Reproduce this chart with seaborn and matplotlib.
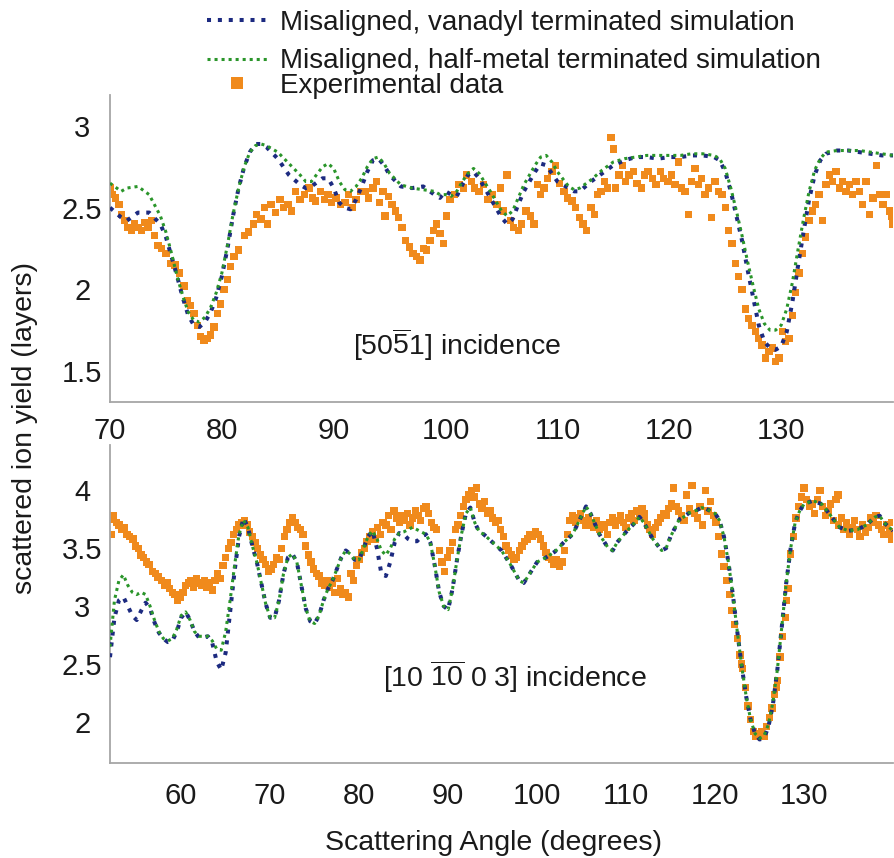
import numpy as np
import pandas as pd
import matplotlib
matplotlib.use("Agg")
import matplotlib.pyplot as plt
import seaborn as sns
from matplotlib.lines import Line2D
from matplotlib.ticker import FuncFormatter

# ---------------- data ----------------
top_sim_x = [70, 71, 71.5, 72.5, 73.5, 74.5, 75, 75.5, 76, 76.5,
             77, 77.5, 78, 78.5, 79, 79.5, 80, 80.5, 81, 81.5,
             82, 82.5, 83, 83.5, 84, 85, 86, 87, 87.5, 88,
             89, 89.5, 90, 90.5, 91, 91.5, 92, 92.5, 93, 93.5,
             94, 94.5, 95, 96, 97, 98, 99, 99.5, 100, 100.5,
             101, 101.5, 102, 102.5, 103, 104, 105, 105.5, 106, 106.5,
             107, 108, 108.5, 109, 109.5, 110, 111, 111.5, 112, 113,
             114, 115, 116, 117, 118, 119, 120, 121, 122, 123,
             124, 124.5, 125, 125.5, 126, 126.5, 127, 127.5, 128, 128.5,
             129, 129.5, 130, 130.5, 131, 131.5, 132, 132.5, 133, 133.5,
             134, 135, 136, 137, 138, 139, 140]
top_vanadyl = [2.50, 2.44, 2.42, 2.47, 2.47, 2.40, 2.32, 2.20, 2.08, 1.95,
               1.84, 1.78, 1.77, 1.80, 1.86, 1.95, 2.08, 2.25, 2.45, 2.62,
               2.75, 2.84, 2.89, 2.89, 2.87, 2.80, 2.70, 2.64, 2.62, 2.63,
               2.68, 2.68, 2.62, 2.53, 2.50, 2.49, 2.55, 2.63, 2.72, 2.79,
               2.80, 2.76, 2.70, 2.63, 2.62, 2.63, 2.58, 2.56, 2.60, 2.58,
               2.57, 2.64, 2.70, 2.72, 2.68, 2.56, 2.44, 2.40, 2.43, 2.52,
               2.60, 2.72, 2.77, 2.76, 2.71, 2.66, 2.62, 2.60, 2.60, 2.66,
               2.71, 2.76, 2.79, 2.81, 2.81, 2.80, 2.81, 2.81, 2.82, 2.82,
               2.81, 2.79, 2.72, 2.60, 2.45, 2.30, 2.12, 1.95, 1.78, 1.68,
               1.64, 1.63, 1.65, 1.74, 1.92, 2.14, 2.35, 2.55, 2.70, 2.79,
               2.83, 2.85, 2.85, 2.84, 2.83, 2.82, 2.82]
top_halfmetal = [2.65, 2.60, 2.62, 2.63, 2.58, 2.45, 2.35, 2.22, 2.08, 1.96,
                 1.86, 1.81, 1.80, 1.83, 1.89, 1.98, 2.10, 2.27, 2.46, 2.62,
                 2.75, 2.84, 2.88, 2.89, 2.88, 2.84, 2.77, 2.70, 2.66, 2.66,
                 2.75, 2.77, 2.74, 2.66, 2.61, 2.60, 2.63, 2.68, 2.75, 2.80,
                 2.81, 2.77, 2.71, 2.64, 2.62, 2.61, 2.60, 2.58, 2.58, 2.57,
                 2.60, 2.66, 2.71, 2.74, 2.71, 2.60, 2.48, 2.45, 2.48, 2.56,
                 2.64, 2.76, 2.81, 2.82, 2.78, 2.72, 2.63, 2.61, 2.62, 2.67,
                 2.73, 2.78, 2.80, 2.81, 2.82, 2.82, 2.82, 2.82, 2.83, 2.83,
                 2.82, 2.80, 2.74, 2.62, 2.48, 2.33, 2.17, 2.02, 1.88, 1.79,
                 1.75, 1.75, 1.78, 1.88, 2.04, 2.24, 2.43, 2.60, 2.73, 2.80,
                 2.84, 2.85, 2.85, 2.85, 2.84, 2.83, 2.82]

top_exp_x = [70.0, 70.2, 70.5, 70.8, 71.0, 71.3, 71.6, 71.9, 72.2, 72.5,
             72.8, 73.1, 73.4, 73.7, 74.0, 74.3, 74.6, 75.0, 75.4, 75.8,
             76.2, 76.6, 76.9, 77.2, 77.5, 77.8, 78.1, 78.4, 78.7, 79.0,
             79.3, 79.6, 79.9, 80.2, 80.5, 80.8, 81.1, 81.5, 82.0, 82.4,
             82.8, 83.1, 83.5, 83.8, 84.1, 84.4, 84.8, 85.2, 85.5, 85.9,
             86.2, 86.6, 87.0, 87.4, 87.8, 88.1, 88.4, 88.8, 89.2, 89.5,
             89.8, 90.2, 90.6, 91.0, 91.3, 91.7, 92.0, 92.4, 92.8, 93.1,
             93.5, 93.8, 94.1, 94.4, 94.6, 94.9, 95.2, 95.5, 95.8, 96.1,
             96.4, 96.8, 97.1, 97.4, 97.7, 98.0, 98.3, 98.6, 98.9, 99.2,
             99.5, 99.8, 100.1, 100.4, 100.8, 101.2, 101.6, 101.9, 102.3, 102.6,
             103.0, 103.4, 103.8, 104.2, 104.6, 104.9, 105.2, 105.5, 105.8, 106.1,
             106.5, 106.8, 107.2, 107.6, 107.9, 108.2, 108.5, 108.8, 109.1, 109.5,
             109.8, 110.2, 110.6, 110.9, 111.3, 111.6, 112.0, 112.3, 112.6, 113.0,
             113.3, 113.6, 113.9, 114.2, 114.5, 114.8, 115.0, 115.2, 115.5, 115.8,
             116.1, 116.4, 116.8, 117.1, 117.5, 117.8, 118.1, 118.5, 118.8, 119.2,
             119.5, 119.9, 120.2, 120.5, 120.8, 121.1, 121.4, 121.7, 122.0, 122.3,
             122.6, 122.9, 123.2, 123.5, 123.8, 124.1, 124.4, 124.7, 125.0, 125.3,
             125.6, 125.9, 126.2, 126.5, 126.8, 127.1, 127.4, 127.7, 128.0, 128.3,
             128.6, 128.9, 129.2, 129.5, 129.8, 130.1, 130.4, 130.7, 131.0, 131.3,
             131.6, 131.9, 132.2, 132.5, 132.8, 133.1, 133.4, 133.7, 134.0, 134.3,
             134.6, 134.9, 135.2, 135.5, 135.8, 136.1, 136.4, 136.7, 137.0, 137.3,
             137.6, 137.9, 138.2, 138.5, 138.8, 139.1, 139.4, 139.7, 140.0, 139.9]
top_exp_y = [2.62, 2.58, 2.56, 2.52, 2.46, 2.42, 2.38, 2.36, 2.40, 2.38,
             2.36, 2.41, 2.38, 2.42, 2.33, 2.27, 2.25, 2.22, 2.16, 2.15,
             2.10, 2.02, 1.93, 1.90, 1.85, 1.78, 1.71, 1.69, 1.70, 1.72,
             1.77, 1.85, 1.91, 2.00, 2.06, 2.14, 2.20, 2.24, 2.33, 2.35,
             2.40, 2.46, 2.43, 2.50, 2.40, 2.52, 2.47, 2.55, 2.50, 2.52,
             2.48, 2.60, 2.55, 2.58, 2.62, 2.56, 2.54, 2.60, 2.55, 2.58,
             2.53, 2.56, 2.52, 2.53, 2.58, 2.50, 2.55, 2.60, 2.60, 2.56,
             2.62, 2.66, 2.53, 2.60, 2.45, 2.57, 2.52, 2.48, 2.44, 2.38,
             2.30, 2.26, 2.22, 2.20, 2.18, 2.25, 2.24, 2.30, 2.36, 2.40,
             2.34, 2.28, 2.45, 2.55, 2.58, 2.64, 2.62, 2.70, 2.66, 2.62,
             2.60, 2.64, 2.55, 2.58, 2.52, 2.62, 2.48, 2.70, 2.42, 2.38,
             2.36, 2.40, 2.48, 2.45, 2.40, 2.64, 2.58, 2.62, 2.68, 2.72,
             2.76, 2.65, 2.60, 2.56, 2.54, 2.50, 2.44, 2.40, 2.36, 2.50,
             2.46, 2.58, 2.60, 2.66, 2.62, 2.93, 2.86, 2.62, 2.70, 2.76,
             2.66, 2.70, 2.72, 2.65, 2.62, 2.70, 2.72, 2.68, 2.64, 2.72,
             2.68, 2.66, 2.70, 2.64, 2.78, 2.62, 2.60, 2.46, 2.66, 2.74,
             2.64, 2.68, 2.58, 2.62, 2.44, 2.66, 2.60, 2.58, 2.50, 2.36,
             2.28, 2.16, 2.08, 2.00, 1.88, 1.82, 1.78, 1.74, 1.70, 1.66,
             1.58, 1.62, 1.64, 1.56, 1.58, 1.74, 1.68, 1.70, 1.84, 1.98,
             2.10, 2.22, 2.32, 2.42, 2.48, 2.52, 2.58, 2.42, 2.64, 2.70,
             2.66, 2.72, 2.62, 2.66, 2.60, 2.64, 2.58, 2.66, 2.60, 2.52,
             2.66, 2.46, 2.56, 2.76, 2.58, 2.52, 2.58, 2.48, 2.40, 2.45]

bot_sim_x = [52, 52.5, 53, 53.5, 54, 54.5, 55, 55.5, 56, 56.5,
             57, 57.5, 58, 58.5, 59, 59.5, 60, 60.5, 61, 61.5,
             62, 62.5, 63, 63.5, 64, 64.5, 65, 65.5, 66, 66.5,
             67, 67.5, 68, 68.5, 69, 69.5, 70, 70.5, 71, 71.5,
             72, 72.5, 73, 73.5, 74, 74.5, 75, 75.5, 76, 76.5,
             77, 77.5, 78, 78.5, 79, 79.5, 80, 80.5, 81, 81.5,
             82, 82.5, 83, 83.5, 84, 84.5, 85, 85.5, 86, 86.5,
             87, 87.5, 88, 88.5, 89, 89.5, 90, 90.5, 91, 91.5,
             92, 92.5, 93, 93.5, 94, 95, 96, 97, 98, 98.5,
             99, 100, 101, 102, 103, 104, 105, 105.5, 106, 107,
             108, 108.5, 109, 110, 111, 111.5, 112, 113, 114, 114.5,
             115, 116, 116.5, 117, 118, 118.5, 119, 120, 120.5, 121,
             121.5, 122, 122.5, 123, 123.5, 124, 124.5, 125, 125.5, 126,
             126.5, 127, 127.5, 128, 128.5, 129, 129.5, 130, 131, 132,
             133, 134, 135, 136, 137, 138, 138.5, 139, 140]
bot_vanadyl = [2.56, 2.90, 3.05, 3.08, 3.00, 2.92, 2.88, 2.96, 3.03, 2.98,
               2.86, 2.77, 2.72, 2.69, 2.70, 2.78, 2.90, 2.95, 2.88, 2.78,
               2.73, 2.73, 2.74, 2.68, 2.52, 2.45, 2.60, 2.95, 3.30, 3.60,
               3.76, 3.68, 3.52, 3.38, 3.20, 3.02, 2.90, 2.90, 3.05, 3.28,
               3.42, 3.45, 3.38, 3.18, 2.98, 2.87, 2.85, 2.92, 3.05, 3.15,
               3.22, 3.32, 3.42, 3.48, 3.45, 3.40, 3.40, 3.50, 3.60, 3.65,
               3.50, 3.28, 3.26, 3.38, 3.55, 3.63, 3.62, 3.58, 3.56, 3.56,
               3.60, 3.62, 3.55, 3.35, 3.12, 3.00, 2.97, 3.15, 3.40, 3.62,
               3.80, 3.85, 3.72, 3.64, 3.62, 3.55, 3.48, 3.36, 3.22, 3.20,
               3.26, 3.38, 3.42, 3.47, 3.55, 3.62, 3.78, 3.86, 3.80, 3.62,
               3.50, 3.48, 3.55, 3.64, 3.72, 3.77, 3.72, 3.58, 3.48, 3.50,
               3.60, 3.75, 3.77, 3.80, 3.83, 3.85, 3.84, 3.80, 3.74, 3.60,
               3.38, 3.10, 2.78, 2.48, 2.22, 2.02, 1.90, 1.85, 1.86, 1.96,
               2.15, 2.45, 2.82, 3.20, 3.50, 3.72, 3.82, 3.88, 3.91, 3.88,
               3.78, 3.68, 3.65, 3.66, 3.70, 3.77, 3.78, 3.72, 3.65]
bot_halfmetal = [2.65, 3.05, 3.22, 3.27, 3.18, 3.12, 3.10, 3.12, 3.10, 3.00,
                 2.88, 2.78, 2.72, 2.70, 2.72, 2.80, 2.92, 2.95, 2.88, 2.78,
                 2.74, 2.74, 2.74, 2.70, 2.63, 2.62, 2.78, 3.05, 3.35, 3.62,
                 3.74, 3.68, 3.52, 3.38, 3.20, 3.02, 2.90, 2.90, 3.05, 3.28,
                 3.42, 3.45, 3.38, 3.18, 2.98, 2.87, 2.85, 2.92, 3.05, 3.15,
                 3.22, 3.32, 3.42, 3.48, 3.45, 3.40, 3.40, 3.50, 3.60, 3.65,
                 3.58, 3.48, 3.44, 3.50, 3.58, 3.63, 3.64, 3.66, 3.68, 3.66,
                 3.64, 3.62, 3.55, 3.35, 3.12, 3.00, 2.97, 3.15, 3.40, 3.62,
                 3.80, 3.85, 3.72, 3.64, 3.62, 3.55, 3.48, 3.36, 3.22, 3.20,
                 3.26, 3.38, 3.42, 3.47, 3.55, 3.62, 3.78, 3.86, 3.80, 3.62,
                 3.50, 3.48, 3.55, 3.64, 3.72, 3.77, 3.72, 3.58, 3.48, 3.50,
                 3.60, 3.75, 3.77, 3.80, 3.83, 3.85, 3.84, 3.80, 3.74, 3.60,
                 3.38, 3.10, 2.78, 2.48, 2.22, 2.02, 1.90, 1.86, 1.88, 1.98,
                 2.17, 2.45, 2.82, 3.20, 3.50, 3.72, 3.82, 3.88, 3.91, 3.88,
                 3.78, 3.68, 3.65, 3.66, 3.70, 3.77, 3.78, 3.72, 3.65]

bot_exp_x = [52.0, 52.2, 52.4, 52.7, 53.0, 53.3, 53.6, 53.9, 54.2, 54.6,
             54.9, 55.2, 55.5, 55.8, 56.1, 56.4, 56.8, 57.1, 57.4, 57.8,
             58.1, 58.4, 58.7, 59.0, 59.3, 59.6, 59.9, 60.2, 60.5, 60.8,
             61.1, 61.4, 61.7, 62.0, 62.3, 62.6, 62.9, 63.2, 63.5, 63.8,
             64.1, 64.4, 64.7, 65.0, 65.3, 65.6, 65.9, 66.2, 66.5, 66.8,
             67.1, 67.4, 67.7, 68.0, 68.3, 68.6, 68.9, 69.2, 69.5, 69.8,
             70.1, 70.4, 70.7, 71.0, 71.3, 71.6, 71.9, 72.2, 72.5, 72.8,
             73.1, 73.4, 73.7, 74.0, 74.3, 74.6, 74.9, 75.2, 75.5, 75.8,
             76.1, 76.4, 76.7, 77.0, 77.3, 77.6, 77.9, 78.2, 78.5, 78.8,
             79.1, 79.4, 79.7, 80.0, 80.3, 80.6, 80.9, 81.2, 81.5, 81.8,
             82.1, 82.4, 82.7, 83.0, 83.3, 83.6, 83.9, 84.2, 84.5, 84.8,
             85.1, 85.4, 85.7, 86.0, 86.3, 86.6, 86.9, 87.2, 87.5, 87.8,
             88.1, 88.4, 88.7, 89.0, 89.3, 89.6, 89.9, 90.2, 90.5, 90.8,
             91.1, 91.4, 91.7, 92.0, 92.3, 92.6, 92.9, 93.2, 93.5, 93.8,
             94.1, 94.4, 94.7, 95.0, 95.3, 95.6, 95.9, 96.2, 96.5, 96.8,
             97.1, 97.4, 97.7, 98.0, 98.3, 98.6, 98.9, 99.2, 99.5, 99.8,
             100.1, 100.4, 100.7, 101.0, 101.3, 101.6, 101.9, 102.2, 102.5, 102.8,
             103.1, 103.4, 103.7, 104.0, 104.3, 104.6, 104.9, 105.2, 105.5, 105.8,
             106.1, 106.4, 106.7, 107.0, 107.3, 107.6, 107.9, 108.2, 108.5, 108.8,
             109.1, 109.4, 109.7, 110.0, 110.3, 110.6, 110.9, 111.2, 111.5, 111.8,
             112.1, 112.4, 112.7, 113.0, 113.3, 113.6, 113.9, 114.2, 114.5, 114.8,
             115.1, 115.3, 115.6, 115.9, 116.2, 116.5, 116.8, 117.1, 117.4, 117.7,
             118.0, 118.3, 118.6, 118.9, 119.2, 119.5, 119.8, 120.1, 120.4, 120.7,
             121.0, 121.3, 121.6, 121.9, 122.2, 122.5, 122.8, 123.1, 123.4, 123.7,
             124.0, 124.3, 124.6, 124.9, 125.2, 125.5, 125.8, 126.1, 126.4, 126.7,
             127.0, 127.3, 127.6, 127.9, 128.2, 128.5, 128.8, 129.1, 129.4, 129.7,
             130.0, 130.3, 130.6, 130.9, 131.2, 131.5, 131.8, 132.1, 132.4, 132.7,
             133.0, 133.3, 133.6, 133.9, 134.2, 134.5, 134.8, 135.1, 135.4, 135.7,
             136.0, 136.3, 136.6, 136.9, 137.2, 137.5, 137.8, 138.1, 138.4, 138.7,
             139.0, 139.3, 139.6, 139.9, 139.8, 133.8, 123.0, 126.9, 128.0, 112.0]
bot_exp_y = [3.75, 3.62, 3.78, 3.72, 3.70, 3.66, 3.68, 3.62, 3.60, 3.58,
             3.52, 3.50, 3.44, 3.42, 3.38, 3.36, 3.30, 3.28, 3.25, 3.22,
             3.18, 3.20, 3.15, 3.12, 3.10, 3.05, 3.08, 3.12, 3.18, 3.20,
             3.22, 3.16, 3.24, 3.20, 3.18, 3.22, 3.16, 3.20, 3.14, 3.22,
             3.28, 3.24, 3.35, 3.42, 3.50, 3.55, 3.62, 3.66, 3.70, 3.72,
             3.74, 3.70, 3.64, 3.60, 3.55, 3.50, 3.44, 3.40, 3.36, 3.30,
             3.32, 3.36, 3.42, 3.40, 3.50, 3.60, 3.66, 3.72, 3.76, 3.72,
             3.68, 3.66, 3.62, 3.52, 3.44, 3.38, 3.32, 3.28, 3.26, 3.20,
             3.18, 3.22, 3.16, 3.20, 3.12, 3.24, 3.15, 3.10, 3.12, 3.08,
             3.28, 3.22, 3.35, 3.40, 3.46, 3.50, 3.56, 3.60, 3.64, 3.58,
             3.68, 3.62, 3.72, 3.70, 3.78, 3.66, 3.82, 3.76, 3.72, 3.78,
             3.74, 3.80, 3.70, 3.76, 3.82, 3.78, 3.74, 3.84, 3.86, 3.80,
             3.72, 3.68, 3.66, 3.48, 3.38, 3.30, 3.42, 3.48, 3.55, 3.66,
             3.70, 3.78, 3.86, 3.92, 3.96, 4.00, 3.94, 4.02, 3.88, 3.84,
             3.90, 3.80, 3.82, 3.76, 3.72, 3.74, 3.66, 3.60, 3.52, 3.48,
             3.44, 3.40, 3.42, 3.48, 3.52, 3.56, 3.58, 3.62, 3.60, 3.64,
             3.62, 3.58, 3.52, 3.46, 3.42, 3.40, 3.36, 3.40, 3.34, 3.38,
             3.48, 3.62, 3.74, 3.78, 3.72, 3.76, 3.80, 3.74, 3.70, 3.76,
             3.72, 3.68, 3.74, 3.66, 3.70, 3.68, 3.62, 3.72, 3.76, 3.70,
             3.74, 3.78, 3.72, 3.68, 3.76, 3.80, 3.74, 3.82, 3.78, 3.84,
             3.76, 3.70, 3.66, 3.62, 3.68, 3.72, 3.76, 3.80, 3.78, 3.84,
             3.88, 4.02, 3.86, 3.82, 3.78, 3.74, 3.96, 3.84, 4.04, 3.80,
             3.76, 3.86, 3.70, 4.00, 3.82, 3.90, 3.78, 3.72, 3.60, 3.45,
             3.34, 3.22, 3.10, 2.96, 2.84, 2.72, 2.58, 2.46, 2.30, 2.14,
             2.02, 1.92, 1.88, 1.90, 1.92, 1.88, 1.96, 2.04, 2.12, 2.24,
             2.36, 2.56, 2.74, 2.90, 3.15, 3.45, 3.60, 3.76, 3.86, 3.94,
             4.02, 3.92, 3.86, 3.88, 3.80, 3.92, 4.00, 3.86, 3.78, 3.82,
             3.88, 3.74, 3.92, 3.70, 3.76, 3.66, 3.72, 3.62, 3.68, 3.74,
             3.66, 3.60, 3.70, 3.64, 3.68, 3.76, 3.72, 3.78, 3.70, 3.66,
             3.62, 3.70, 3.64, 3.58, 3.72, 3.96, 2.50, 2.30, 3.05, 3.80]

top_xticks = [70, 80, 90, 100, 110, 120, 130]
top_yticks = [1.5, 2, 2.5, 3]
bot_xticks = [60, 70, 80, 90, 100, 110, 120, 130]
bot_yticks = [2, 2.5, 3, 3.5, 4]

labels = ["Misaligned, vanadyl terminated simulation",
          "Misaligned, half-metal terminated simulation",
          "Experimental data"]
top_note = r"[50$\overline{\mathrm{5}}$1] incidence"
bot_note = r"[10 $\overline{\mathrm{10}}$ 0 3] incidence"
ylabel = "scattered ion yield (layers)"
xlabel = "Scattering Angle (degrees)"

# ---------------- style ----------------
sns.set_style("white")
plt.rcParams["font.family"] = ["Liberation Sans", "DejaVu Sans"]
plt.rcParams["mathtext.fontset"] = "custom"
plt.rcParams["mathtext.rm"] = "Liberation Sans"
plt.rcParams["mathtext.it"] = "Liberation Sans:italic"
plt.rcParams["mathtext.bf"] = "Liberation Sans:bold"

BLUE = "#1c2a80"
GREEN = "#2a952a"
ORANGE = "#f08a1c"
SPINE = "#a6a6a6"
TXT = "#1a1a1a"
BLUE_LS = (0, (1, 1.7))
GREEN_LS = (0, (1, 1.3))

W, H = 895, 858
fig = plt.figure(figsize=(W / 100, H / 100), dpi=100)
ax1 = fig.add_axes([110 / W, 1 - 402 / H, 783 / W, 307 / H])
ax2 = fig.add_axes([110 / W, 1 - 763 / H, 783 / W, 318 / H])

panels = [
    (ax1, top_exp_x, top_exp_y, top_sim_x, top_vanadyl, top_halfmetal,
     (70, 140), (1.31, 3.19), top_xticks, top_yticks, 10.5),
    (ax2, bot_exp_x, bot_exp_y, bot_sim_x, bot_vanadyl, bot_halfmetal,
     (52, 140), (1.647, 4.39), bot_xticks, bot_yticks, 14),
]

fmt = FuncFormatter(lambda v, p: f"{v:g}")
for (ax, ex, ey, sx, sv, sh, xl, yl, xt, yt, xpad) in panels:
    sns.scatterplot(x=ex, y=ey, ax=ax, marker="s", s=28, color=ORANGE,
                    edgecolor="none", linewidth=0, zorder=2)
    sns.lineplot(x=sx, y=sv, ax=ax, color=BLUE, linewidth=2.9,
                 linestyle=BLUE_LS, zorder=3)
    sns.lineplot(x=sx, y=sh, ax=ax, color=GREEN, linewidth=2.2,
                 linestyle=GREEN_LS, zorder=4)
    ax.set_xlim(*xl)
    ax.set_ylim(*yl)
    ax.set_xticks(xt)
    ax.set_yticks(yt)
    ax.xaxis.set_major_formatter(fmt)
    ax.yaxis.set_major_formatter(fmt)
    ax.set_xlabel("")
    ax.set_ylabel("")
    for s in ["top", "right"]:
        ax.spines[s].set_visible(False)
    for s in ["left", "bottom"]:
        ax.spines[s].set_color(SPINE)
        ax.spines[s].set_linewidth(1.3)
    ax.tick_params(axis="both", direction="in", length=6, width=1,
                   color=SPINE, labelsize=21, labelcolor=TXT)
    ax.tick_params(axis="x", pad=xpad)
    ax.tick_params(axis="y", pad=20)
    for lbl in ax.get_yticklabels():
        lbl.set_horizontalalignment("center")
    ax.set_facecolor("white")
    if ax.get_legend() is not None:
        ax.get_legend().remove()

ax1.text(101.0, 1.595, top_note, fontsize=20.5, color=TXT,
         ha="center", va="baseline")
ax2.text(97.5, 2.30, bot_note, fontsize=20.5, color=TXT,
         ha="center", va="baseline")

ax2.set_xlabel(xlabel, fontsize=20.5, color=TXT)
ax2.xaxis.set_label_coords((494 - 110) / 783, (763 - 830) / 318)

fig.text(25 / W, 1 - 428 / H, ylabel, rotation=90, fontsize=20.5,
         color=TXT, ha="center", va="center")

handles = [
    Line2D([], [], color=BLUE, linewidth=2.9, linestyle=BLUE_LS),
    Line2D([], [], color=GREEN, linewidth=2.2, linestyle=GREEN_LS),
    Line2D([], [], color=ORANGE, marker="s", markersize=8, linestyle="none",
           markeredgewidth=0),
]
leg_kw = dict(loc="upper left", frameon=False, fontsize=20,
              handlelength=2.15, handletextpad=0.47, borderpad=0,
              borderaxespad=0, labelcolor=TXT)
fig.legend(handles[:2], labels[:2], bbox_to_anchor=(207 / W, 1 - 10 / H),
           labelspacing=0.45, **leg_kw)
fig.legend(handles[2:], labels[2:], bbox_to_anchor=(207 / W, 1 - 73 / H),
           labelspacing=0.0, **leg_kw)

fig.savefig("out.png", dpi=100, facecolor="white")
